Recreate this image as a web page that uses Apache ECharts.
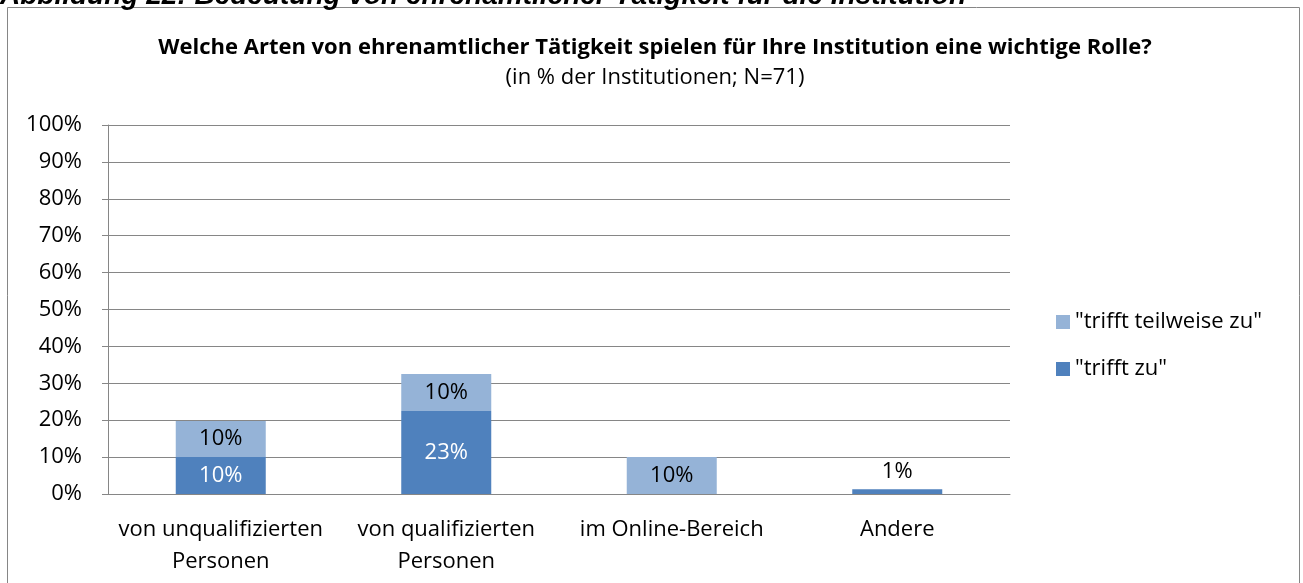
<!DOCTYPE html>
<html>
<head>
<meta charset="utf-8">
<script src="https://cdn.jsdelivr.net/npm/echarts@6/dist/echarts.min.js"></script>
<style>
  html, body { margin: 0; padding: 0; background: #fff; }
  #chart { width: 1303px; height: 583px; }
</style>
</head>
<body>
<div id="chart"></div>
<script>
// categories + values (in %)
const categories = ['von unqualifizierten\nPersonen', 'von qualifizierten\nPersonen', 'im Online-Bereich', 'Andere'];
const trifftZu = [10, 22.5, 0, 1.3];
const trifftTeilweise = [9.8, 10, 10, 0];
const yTicks = [0, 10, 20, 30, 40, 50, 60, 70, 80, 90, 100];

const FONT = '"Open Sans", sans-serif';
const FS = 22;
const DARK = '#4F81BD';
const LIGHT = '#95B3D7';

const pct = p => (p.value > 0 ? Math.round(p.value) + '%' : '');

const chart = echarts.init(document.getElementById('chart'));

chart.setOption({
  backgroundColor: '#fff',
  animation: false,
  textStyle: { fontFamily: FONT },
  graphic: [
    {
      type: 'text',
      x: 0, y: 0,
      style: {
        x: 0, y: 10,
        verticalAlign: 'bottom',
        text: 'Abbildung 22: Bedeutung von ehrenamtlicher Tätigkeit für die Institution',
        font: 'italic bold 28px "Liberation Sans", Arial, sans-serif',
        fill: '#000'
      }
    },
    {
      type: 'rect',
      shape: { x: 7.5, y: 7.5, width: 1292, height: 620 },
      style: { fill: 'none', stroke: '#868686', lineWidth: 1 },
      z: -1
    }
  ],
  title: {
    text: 'Welche Arten von ehrenamtlicher Tätigkeit spielen für Ihre Institution eine wichtige Rolle?',
    subtext: '(in % der Institutionen; N=71)',
    left: 650, textAlign: 'center', top: 32,
    itemGap: 8,
    textStyle: { fontFamily: FONT, fontSize: FS, fontWeight: 'bold', color: '#000' },
    subtextStyle: { fontFamily: FONT, fontSize: FS, color: '#000' }
  },
  legend: {
    orient: 'vertical',
    left: 1051, top: 306,
    itemWidth: 14, itemHeight: 14, itemGap: 25,
    icon: 'rect',
    data: ['"trifft teilweise zu"', '"trifft zu"'],
    textStyle: { fontFamily: FONT, fontSize: FS, color: '#000' }
  },
  grid: { left: 108, right: 293, top: 125, bottom: 89, containLabel: false },
  xAxis: {
    type: 'category',
    data: categories,
    axisLine: { lineStyle: { color: '#868686' } },
    axisTick: { length: 6, lineStyle: { color: '#868686' } },
    axisLabel: { interval: 0, fontFamily: FONT, fontSize: FS, color: '#000', margin: 20, lineHeight: 32 }
  },
  yAxis: {
    type: 'value',
    min: 0, max: 100, interval: 10,
    axisLine: { show: true, lineStyle: { color: '#868686' } },
    axisTick: { show: true, inside: false, length: 6, lineStyle: { color: '#868686' } },
    splitLine: { lineStyle: { color: '#868686' } },
    axisLabel: {
      fontFamily: FONT, fontSize: FS, color: '#000', margin: 26,
      formatter: v => (yTicks.includes(v) ? v + '%' : '')
    }
  },
  series: [
    {
      name: '"trifft zu"',
      type: 'bar',
      stack: 'a',
      barWidth: 90,
      itemStyle: { color: DARK },
      label: {
        show: true, position: 'inside', color: '#fff',
        fontFamily: FONT, fontSize: FS, formatter: pct
      },
      data: trifftZu.map((v, i) => i === 3
        ? { value: v, label: { position: 'top', color: '#000', distance: 6 } }
        : v)
    },
    {
      name: '"trifft teilweise zu"',
      type: 'bar',
      stack: 'a',
      barWidth: 90,
      itemStyle: { color: LIGHT },
      label: {
        show: true, position: 'inside', color: '#000',
        fontFamily: FONT, fontSize: FS, formatter: pct
      },
      data: trifftTeilweise
    }
  ]
});
</script>
</body>
</html>
